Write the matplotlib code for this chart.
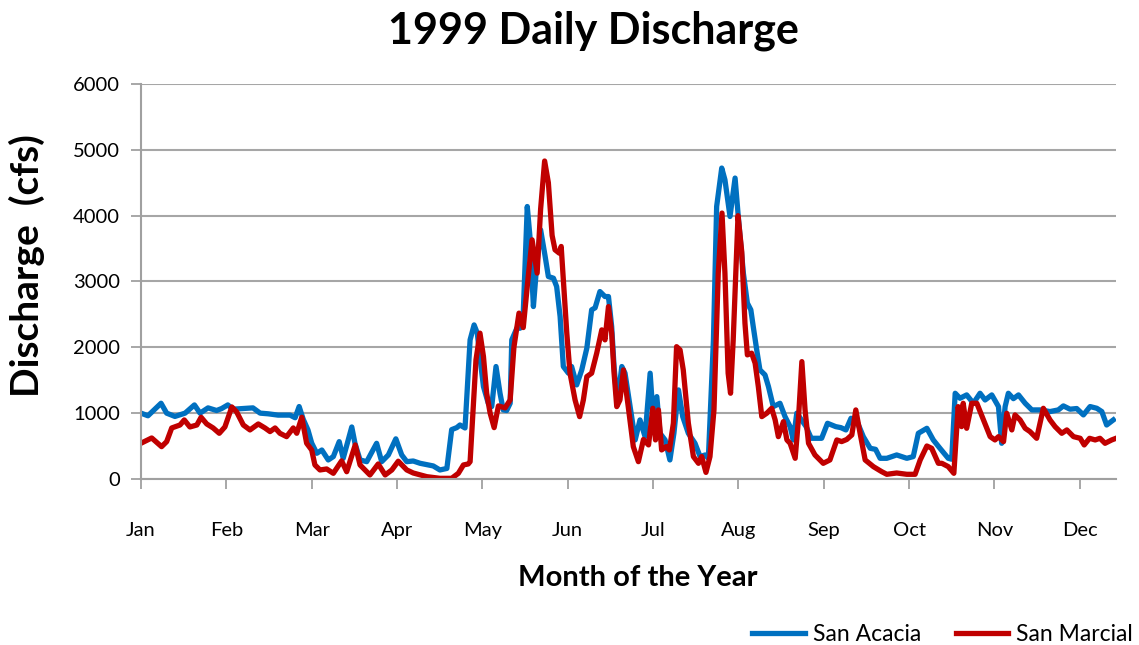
import matplotlib
matplotlib.use("Agg")
import matplotlib.pyplot as plt
import numpy as np

plt.rcParams['font.family'] = ['Lato', 'DejaVu Sans']

# ---- data (day of year, discharge cfs) ----
acacia_day = [0, 2.6, 7.5, 9.6, 12.7, 16.5, 20.0, 22.1, 25.1, 28.3, 30.2, 32.5, 34.4, 38.2, 41.9,
              44.6, 47.6, 51.3, 55.8, 57.7, 59.2, 60.7, 62.5, 63.9, 65.8, 67.7, 70.1, 72.0, 74.2,
              75.7, 78.9, 80.1, 82.0, 84.5, 88.2, 90.1, 92.6, 95.4, 97.6, 99.5, 101.9, 104.5,
              109.4, 111.9, 114.5, 116.3, 118.2, 119.4, 121.3, 123.2, 124.7, 125.9, 126.7, 128.2,
              130.0, 131.3, 132.9, 134.4, 135.6, 136.9, 138.2, 138.8, 140.7, 141.9, 143.1, 144.6,
              145.6, 146.9, 148.1, 149.6, 151.3, 152.5, 154.4, 155.6, 156.9, 158.1, 160.0, 161.2,
              163.1, 165.0, 166.9, 168.7, 170.0, 171.8, 173.7, 175.0, 176.2, 177.1, 178.3, 180.0,
              181.2, 183.1, 185.0, 186.8, 188.7, 190.6, 191.8, 193.1, 194.3, 196.2, 198.0, 199.5,
              201.2, 202.8, 204.9, 207.4, 209.3, 211.2, 212.4, 214.3, 215.5, 217.4, 218.6, 220.5,
              222.4, 223.6, 225.5, 227.0, 228.3, 229.2, 230.5, 231.7, 233.6, 234.9, 236.7, 239.2,
              241.1, 243.0, 244.2, 245.5, 249.0, 250.9, 254.8, 257.0, 260.1, 262.0, 263.9, 265.8,
              268.0, 270.4, 273.0, 275.0, 276.7, 279.2, 282.9, 286.7, 289.1, 291.0, 294.2, 296.6,
              299.1, 302.2, 303.5, 304.8, 306.6, 309.1, 311.6, 314.1, 316.0, 318.5, 321.0, 322.2,
              323.5, 324.7, 326.6, 328.5, 331.0, 333.5, 336.6, 340.3, 343.4, 345.3, 347.8, 350.3,
              352.8, 355.3, 357.8, 359.7, 361.5, 364.0]
acacia_cfs = [1000, 960, 1150, 1000, 950, 1000, 1125, 1000, 1080, 1040, 1070, 1125, 1060, 1070, 1080,
              1000, 990, 970, 970, 930, 1100, 910, 745, 545, 390, 440, 289, 340, 567,
              314, 790, 542, 289, 263, 542, 263, 365, 610, 365, 263, 273, 238,
              198, 137, 160, 750, 780, 820, 775, 2113, 2340, 2215, 1911, 1403,
              1150, 1100, 1708, 1302, 1049, 1040, 1150, 2113, 2290, 2290, 2519, 4139,
              3683, 2619, 3227, 3785, 3380, 3075, 3050, 2923, 2467, 1708, 1607, 1708,
              1429, 1657, 1987, 2569, 2600, 2847, 2771, 2771, 2315, 1700, 1150, 1708,
              1607, 1099, 593, 897, 643, 1607, 897, 1251, 694, 593, 289, 694,
              1353, 947, 694, 542, 340, 365, 315, 2113, 4139, 4723, 4545, 3987,
              4571, 3987, 3127, 2671, 2569, 2315, 1961, 1657, 1581, 1403, 1099, 1150,
              947, 795, 593, 1000, 795, 618, 618, 846, 795, 780, 745, 922,
              880, 643, 466, 450, 314, 314, 365, 314, 340, 694, 770, 593,
              466, 314, 300, 1302, 1226, 1277, 1150, 1302, 1200, 1277, 1100, 542,
              1100, 1302, 1220, 1277, 1150, 1049, 1049, 1024, 1049, 1110, 1060, 1070,
              973, 1100, 1074, 1024, 820, 897]

marcial_day = [0, 4.0, 7.7, 9.6, 11.5, 14.6, 16.2, 18.3, 20.9, 22.5, 24.6, 27.0, 29.3, 31.4, 34.0,
               35.8, 38.3, 40.8, 43.9, 46.4, 48.3, 50.2, 52.0, 54.5, 57.0, 58.3, 60.2, 62.0, 63.9,
               65.1, 67.0, 69.5, 72.0, 75.1, 77.0, 80.2, 82.0, 85.7, 88.8, 91.4, 93.9, 96.3, 99.5,
               101.9, 107.0, 111.9, 116.3, 118.8, 120.7, 122.5, 123.2, 124.3, 125.4, 126.9, 128.2,
               129.4, 130.7, 132.2, 133.8, 136.3, 138.2, 139.6, 141.5, 143.1, 144.9, 146.4, 148.3,
               149.6, 151.1, 152.5, 153.9, 155.0, 156.6, 157.3, 158.1, 159.4, 160.6, 162.5, 164.2,
               165.6, 166.9, 168.7, 170.6, 172.5, 173.7, 175.0, 176.2, 177.1, 178.1, 179.3, 180.6,
               182.4, 184.3, 186.2, 188.1, 190.0, 191.6, 192.6, 193.7, 194.9, 196.6, 197.8, 199.3,
               200.5, 201.8, 203.0, 204.9, 206.8, 208.7, 209.9, 211.5, 213.0, 214.5, 216.1, 217.5,
               218.6, 219.8, 220.7, 221.7, 223.5, 224.9, 226.1, 227.0, 228.6, 229.9, 231.1, 232.4,
               234.3, 236.1, 237.4, 238.6, 240.5, 241.8, 243.0, 244.9, 246.1, 247.4, 248.6, 249.9,
               252.3, 255.4, 257.9, 260.5, 262.3, 264.2, 266.1, 267.6, 269.2, 271.1, 274.2, 277.3,
               279.2, 282.9, 286.7, 289.8, 291.7, 294.2, 296.0, 298.5, 299.8, 302.2, 304.3, 305.9,
               307.2, 307.8, 309.1, 311.0, 312.9, 315.4, 317.9, 319.7, 321.0, 322.9, 324.1, 326.0,
               327.2, 329.1, 331.0, 332.8, 335.3, 337.8, 340.3, 342.2, 344.7, 346.6, 349.1, 351.6,
               353.1, 355.1, 357.2, 359.0, 360.9, 363.4, 365.0]
marcial_cfs = [543, 623, 491, 567, 775, 820, 897, 790, 820, 937, 836, 775, 694, 790, 1094,
               1018, 820, 745, 836, 775, 720, 775, 694, 643, 775, 694, 937, 543, 440,
               213, 137, 152, 86, 275, 110, 517, 213, 61, 228, 61, 137, 270, 137,
               91, 35, 10, 10, 86, 213, 228, 263, 1050, 1809, 2215, 1860,
               1302, 1000, 780, 1110, 1080, 1200, 2000, 2519, 2300, 3050, 3633, 3127,
               4100, 4830, 4500, 3700, 3481, 3430, 3532, 3025, 2215, 1607, 1200, 947,
               1200, 1555, 1607, 1911, 2265, 2113, 2619, 2215, 1607, 1099, 1200, 1657,
               1099, 491, 263, 600, 517, 1074, 593, 1049, 441, 491, 441, 846,
               2010, 1960, 1657, 850, 340, 238, 340, 100, 340, 1050, 3127, 4039,
               3127, 1607, 1302, 2113, 4000, 3450, 2366, 1885, 1911, 1759, 1403, 947,
               1000, 1074, 897, 643, 871, 593, 542, 314, 897, 1783, 1049, 542,
               365, 238, 289, 593, 568, 600, 669, 1049, 694, 289, 187, 111,
               71, 91, 71, 71, 289, 501, 466, 238, 238, 188, 86, 1099,
               795, 1150, 770, 1150, 1150, 897, 643, 593, 643, 567, 998, 745,
               973, 897, 770, 720, 618, 1074, 897, 795, 694, 745, 643, 618,
               517, 618, 593, 618, 542, 593, 618]

months = ['Jan', 'Feb', 'Mar', 'Apr', 'May', 'Jun', 'Jul', 'Aug', 'Sep', 'Oct', 'Nov', 'Dec']
yticks = [0, 1000, 2000, 3000, 4000, 5000, 6000]

# ---- figure ----
fig = plt.figure(figsize=(11.39, 6.45), dpi=100)
ax = fig.add_axes([0.1238, 0.2574, 0.8560, 0.6124])

blue = '#0070C0'
red = '#C00000'
ax.plot(acacia_day, acacia_cfs, color=blue, lw=3.8, label='San Acacia', solid_joinstyle='round')
ax.plot(marcial_day, marcial_cfs, color=red, lw=3.8, label='San Marcial', solid_joinstyle='round')

ax.set_xlim(0, 365)
ax.set_ylim(0, 6000)
ax.set_yticks(yticks)
ax.set_yticklabels([str(v) for v in yticks], fontsize=14.5)
month_pos = np.arange(12) * 31.95
ax.set_xticks(month_pos)
ax.set_xticklabels(months, fontsize=14.5)
ax.tick_params(axis='x', length=7, width=1.3, color='#A0A0A0', pad=24)
ax.tick_params(axis='y', length=7, width=1.3, color='#A0A0A0', pad=8)

ax.grid(axis='y', color='#A6A6A6', lw=1.5)
ax.set_axisbelow(True)
for s in ['top', 'right']:
    ax.spines[s].set_visible(False)
for s in ['left', 'bottom']:
    ax.spines[s].set_color('#A0A0A0')
    ax.spines[s].set_linewidth(1.5)

fig.text(0.521, 0.953, '1999 Daily Discharge', ha='center', va='center',
         fontsize=31, fontweight='bold')
fig.text(0.56, 0.104, 'Month of the Year', ha='center', va='center',
         fontsize=21, fontweight='bold')
fig.text(0.024, 0.589, 'Discharge  (cfs)', ha='center', va='center', rotation=90,
         fontsize=28, fontweight='bold')

fig.legend(loc='lower right', bbox_to_anchor=(1.013, -0.032), ncol=2, frameon=False,
           fontsize=16.5, handlelength=2.3, columnspacing=1.5, handletextpad=0.35)

fig.savefig('out.png', dpi=100)
